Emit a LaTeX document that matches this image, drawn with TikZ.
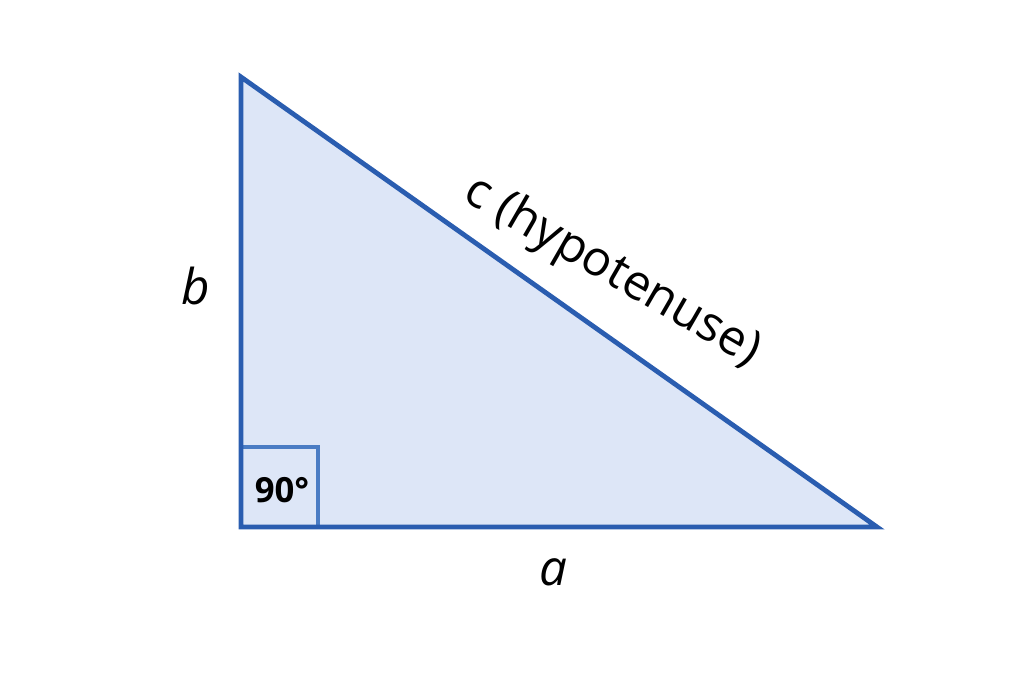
\documentclass[tikz,border=0pt]{standalone}
\usepackage{fontspec}
\setmainfont{Open Sans}
\usetikzlibrary{positioning}

\definecolor{edgeblue}{HTML}{2A5DB0}
\definecolor{boxblue}{HTML}{4A7CC4}
\definecolor{fillblue}{HTML}{DDE6F7}

\begin{document}
\begin{tikzpicture}[
    x=0.75pt,y=-0.75pt,
    side/.style={draw=edgeblue,line width=3.6pt},
    corner/.style={draw=boxblue,line width=2.8pt},
    lbl/.style={font=\fontsize{37}{44}\selectfont\itshape,inner sep=0pt}
    ]

    \useasboundingbox (0,0) rectangle (1024,683);

    \coordinate (top) at (241,77);
    \coordinate (rightangle) at (241,527);
    \coordinate (far) at (877,527);

    \fill [fillblue] (top) -- (rightangle) -- (far) -- cycle;
    \draw [corner] (241,447) -- (318,447) -- (318,527);
    \draw [side] (top) -- (rightangle) -- (far) -- cycle;

    \node (deg) [font=\fontsize{26}{30}\selectfont\bfseries,inner sep=0pt] at (282,490) {90°};

    \node (lblb) [lbl] at (196,286) {b};
    \node (lbla) [lbl] at (553,572) {a};
    \node (lblc) [inner sep=0pt,font=\fontsize{36.5}{44}\selectfont,rotate=-30] at (612,272) {c (hypotenuse)};

  \end{tikzpicture}
\end{document}
